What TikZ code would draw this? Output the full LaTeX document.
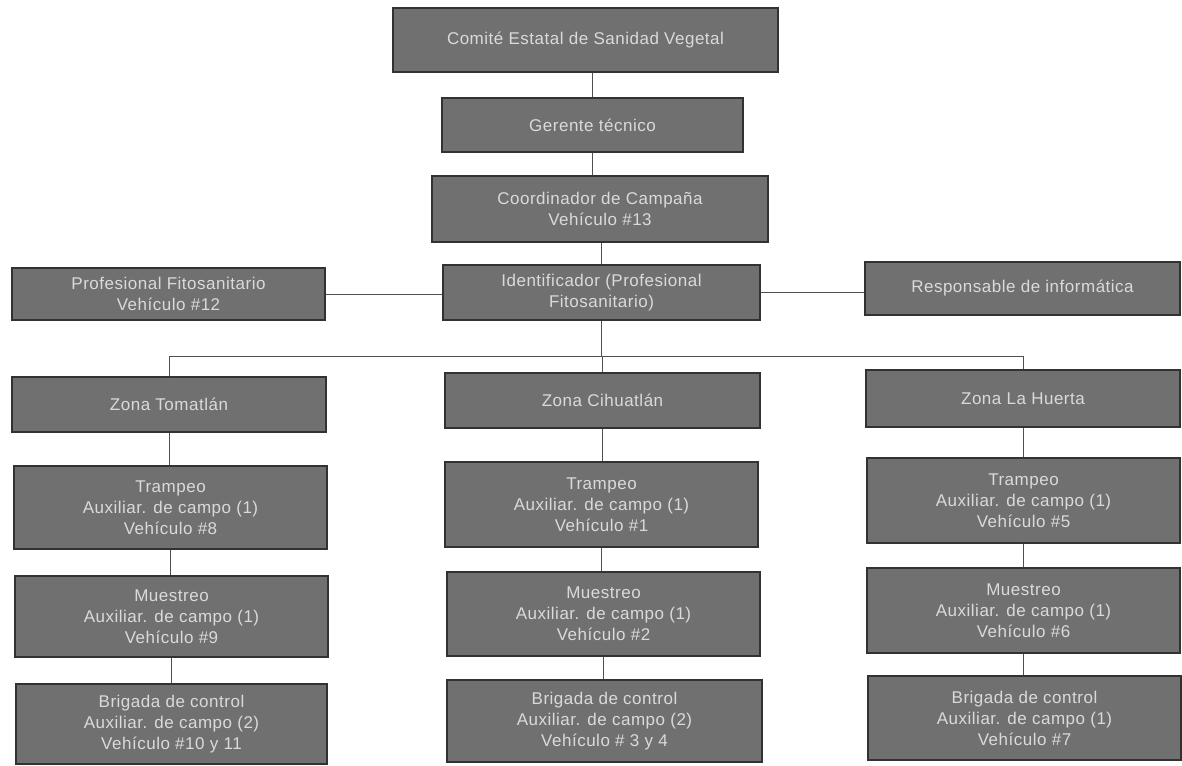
\documentclass[tikz,border=0pt]{standalone}
\usepackage{fontspec}
\newfontfamily\boxfont{Liberation Sans}[LetterSpace=3]
\definecolor{boxfill}{RGB}{112,112,112}
\definecolor{boxline}{RGB}{50,50,50}
\definecolor{boxtext}{RGB}{218,218,218}
\definecolor{conn}{RGB}{80,80,80}
\tikzset{
  orgbox/.style={draw=boxline, line width=1.2pt, fill=boxfill, text=boxtext,
    align=center, inner sep=0pt, font=\boxfont\fontsize{17}{21}\selectfont},
  link/.style={draw=conn, line width=1pt}
}
\begin{document}
\begin{tikzpicture}[x=1pt,y=-1pt]
\fill[white] (0,0) rectangle (1182,765);
\useasboundingbox (0,0) rectangle (1182,765);
% central column
\node[orgbox, minimum width=385pt, minimum height=64pt] (comite) at (585.5,40) {Comité Estatal de Sanidad Vegetal};
\node[orgbox, minimum width=301pt, minimum height=54pt] (gerente) at (592.5,125) {Gerente técnico};
\node[orgbox, minimum width=336pt, minimum height=66pt] (coord) at (600,209) {Coordinador de Campaña\\Vehículo \#13};
\node[orgbox, minimum width=317pt, minimum height=55pt] (ident) at (601.5,292.5) {Identificador (Profesional\\Fitosanitario)};
\node[orgbox, minimum width=313pt, minimum height=52pt] (prof) at (168.5,294) {Profesional Fitosanitario\\Vehículo \#12};
\node[orgbox, minimum width=315pt, minimum height=53pt] (resp) at (1022.5,288.5) {Responsable de informática};
% zones
\node[orgbox, minimum width=314pt, minimum height=55pt] (zt) at (169,404.5) {Zona Tomatlán};
\node[orgbox, minimum width=315pt, minimum height=55pt] (zc) at (602.5,400.5) {Zona Cihuatlán};
\node[orgbox, minimum width=314pt, minimum height=57pt] (zh) at (1023,398.5) {Zona La Huerta};
% left column
\node[orgbox, minimum width=313pt, minimum height=83pt] (t1) at (170.5,507.5) {Trampeo\\Auxiliar. de campo (1)\\Vehículo \#8};
\node[orgbox, minimum width=313pt, minimum height=81pt] (m1) at (171.5,616.5) {Muestreo\\Auxiliar. de campo (1)\\Vehículo \#9};
\node[orgbox, minimum width=311pt, minimum height=80pt] (b1) at (171.5,724) {Brigada de control\\Auxiliar. de campo (2)\\Vehículo \#10 y 11};
% middle column
\node[orgbox, minimum width=313pt, minimum height=85pt] (t2) at (601.5,504.5) {Trampeo\\Auxiliar. de campo (1)\\Vehículo \#1};
\node[orgbox, minimum width=313pt, minimum height=84pt] (m2) at (603.5,614) {Muestreo\\Auxiliar. de campo (1)\\Vehículo \#2};
\node[orgbox, minimum width=315pt, minimum height=82pt] (b2) at (604.5,721) {Brigada de control\\Auxiliar. de campo (2)\\Vehículo \# 3 y 4};
% right column
\node[orgbox, minimum width=313pt, minimum height=85pt] (t3) at (1023.5,500.5) {Trampeo\\Auxiliar. de campo (1)\\Vehículo \#5};
\node[orgbox, minimum width=313pt, minimum height=85pt] (m3) at (1023.5,610.5) {Muestreo\\Auxiliar. de campo (1)\\Vehículo \#6};
\node[orgbox, minimum width=313pt, minimum height=84pt] (b3) at (1024.5,718) {Brigada de control\\Auxiliar. de campo (1)\\Vehículo \#7};
% connectors
\coordinate (busy) at (0,356);
\draw[link] (gerente.north |- comite.south) -- (gerente.north);
\draw[link] (gerente.south) -- (gerente.south |- coord.north);
\draw[link] (ident.north |- coord.south) -- (ident.north);
\draw[link] (prof.east) -- (prof.east -| ident.west);
\draw[link] (ident.east) -- (ident.east -| resp.west);
\draw[link] (ident.south) -- (ident.south |- busy);
\draw[link] (zt.north) -- (zt.north |- busy) -- (zh.north |- busy) -- (zh.north);
\draw[link] (zc.north |- busy) -- (zc.north);
\draw[link] (zt.south) -- (zt.south |- t1.north);
\draw[link] (t1.south) -- (t1.south |- m1.north);
\draw[link] (m1.south) -- (m1.south |- b1.north);
\draw[link] (zc.south) -- (zc.south |- t2.north);
\draw[link] (t2.south) -- (t2.south |- m2.north);
\draw[link] (m2.south) -- (m2.south |- b2.north);
\draw[link] (zh.south) -- (zh.south |- t3.north);
\draw[link] (t3.south) -- (t3.south |- m3.north);
\draw[link] (m3.south) -- (m3.south |- b3.north);
\end{tikzpicture}
\end{document}
